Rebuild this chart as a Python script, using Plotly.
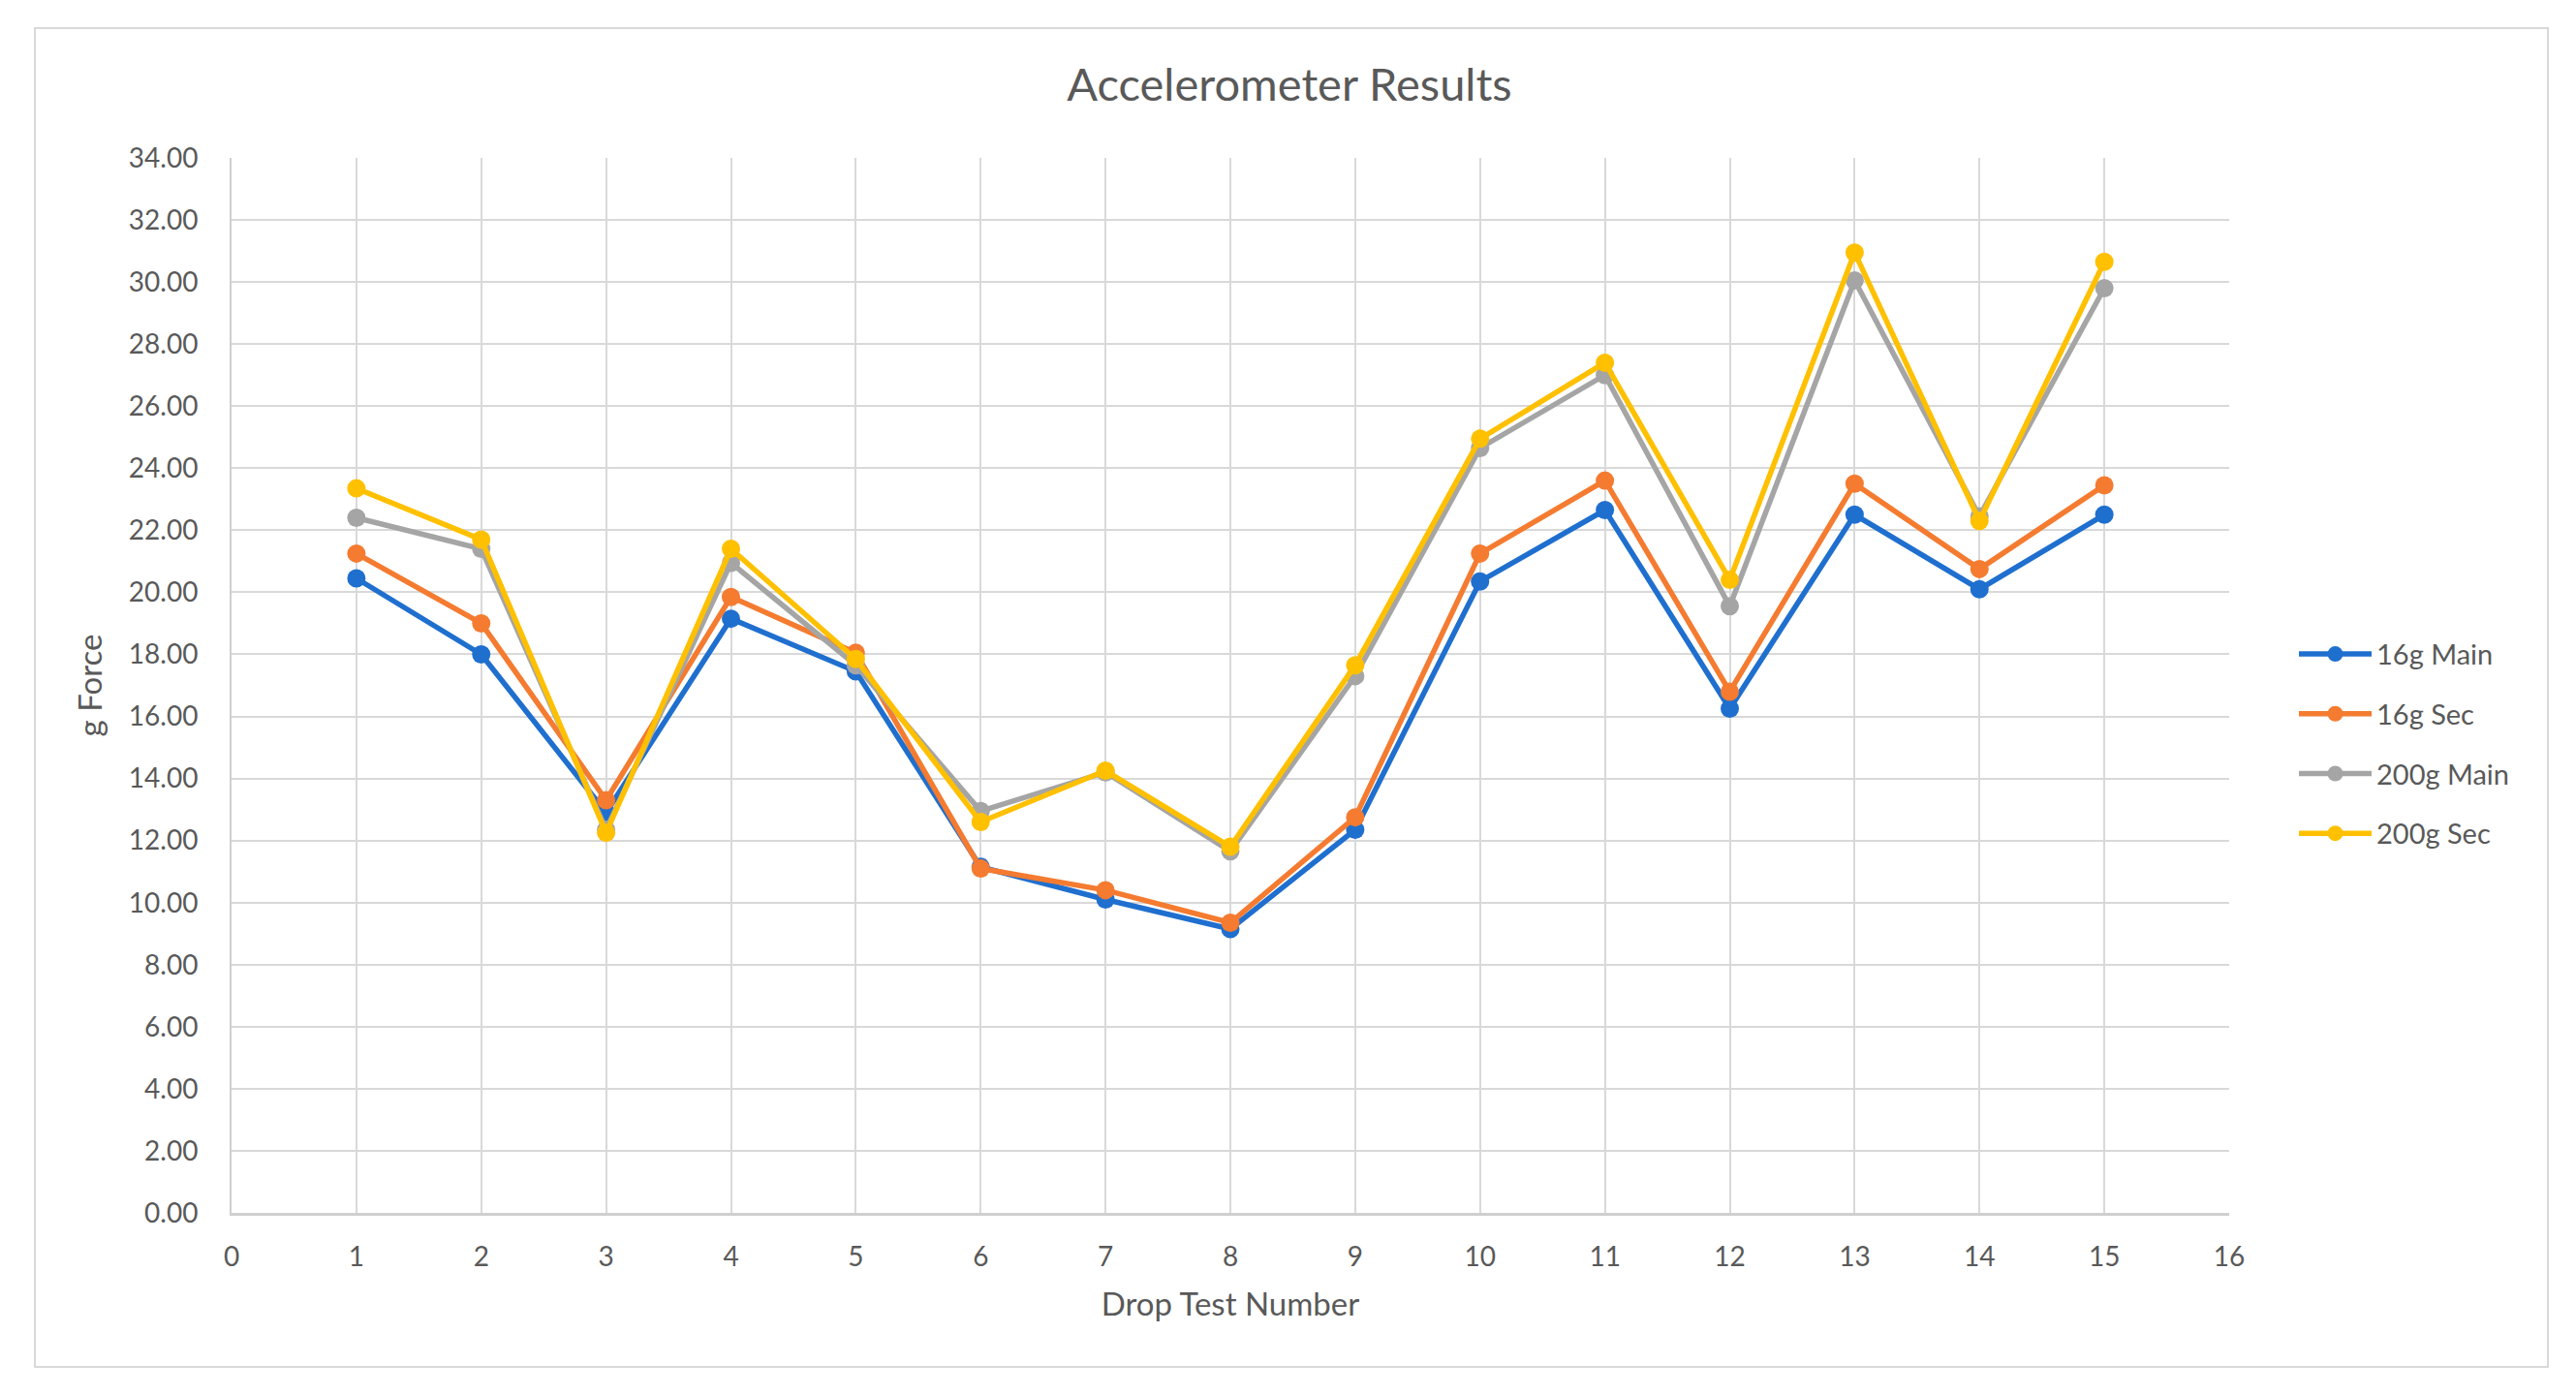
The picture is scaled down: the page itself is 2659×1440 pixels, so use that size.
import plotly.graph_objects as go

drop_tests = [1, 2, 3, 4, 5, 6, 7, 8, 9, 10, 11, 12, 13, 14, 15]
g16_main = [20.45, 18.00, 12.90, 19.15, 17.45, 11.15, 10.10, 9.15, 12.35, 20.35, 22.65, 16.25, 22.50, 20.10, 22.50]
g16_sec = [21.25, 19.00, 13.30, 19.85, 18.05, 11.10, 10.40, 9.35, 12.75, 21.25, 23.60, 16.80, 23.50, 20.75, 23.45]
g200_main = [22.40, 21.40, 12.35, 20.95, 17.65, 12.95, 14.20, 11.65, 17.30, 24.65, 27.00, 19.55, 30.05, 22.45, 29.80]
g200_sec = [23.35, 21.70, 12.25, 21.40, 17.85, 12.60, 14.25, 11.80, 17.65, 24.95, 27.40, 20.40, 30.95, 22.30, 30.65]

series_names = ["16g Main", "16g Sec", "200g Main", "200g Sec"]
series_values = [g16_main, g16_sec, g200_main, g200_sec]
series_colors = ["#1F6FCF", "#F47B30", "#A5A5A5", "#FFC000"]

x_ticks = list(range(0, 17))
y_ticks = list(range(0, 35, 2))

W, H = 2659, 1440
OFF = 8  # page body margin
L, R, T, B = 239 - OFF, 358 + OFF, 163 - OFF, 188 + OFF
pw, ph = W - L - R, H - T - B

FONT = "Lato, 'Open Sans', sans-serif"
TXT = "#595959"

fig = go.Figure()
for i, (name, vals, col) in enumerate(zip(series_names, series_values, series_colors)):
    fig.add_trace(go.Scatter(
        x=drop_tests, y=vals, name=name, mode="lines+markers",
        line=dict(color=col, width=5.5),
        marker=dict(color=col, size=19),
        legendgroup=f"g{i}",
    ))

fig.update_layout(
    width=W, height=H,
    margin=dict(l=L, r=R, t=T, b=B),
    paper_bgcolor="white", plot_bgcolor="white",
    font=dict(family=FONT, color=TXT, size=28),
    title=dict(text="Accelerometer Results", x=(1331 - OFF) / W, xref="container", xanchor="center",
               y=1 - (88 - OFF) / H, yref="container", yanchor="middle",
               font=dict(size=47, color=TXT, family=FONT)),
    legend=dict(x=(2374 + 2 - OFF - 239) / pw, xanchor="left",
                y=(H - B - (675 - OFF)) / ph + 0.02 + 3.5 / ph, yanchor="top",
                font=dict(size=29, color=TXT, family=FONT), tracegroupgap=21,
                itemwidth=75, bgcolor="rgba(0,0,0,0)"),
    showlegend=True,
)

fig.update_xaxes(
    range=[0, 16], tickvals=x_ticks, ticktext=[str(v) for v in x_ticks],
    showgrid=True, gridcolor="#D9D9D9", gridwidth=2,
    showline=True, linecolor="#CFCFCF", linewidth=3,
    zeroline=False, ticks="", ticklabelstandoff=18,
    tickfont=dict(size=28, color=TXT),
    title=dict(text="Drop Test Number", standoff=24, font=dict(size=33, color=TXT)),
)
fig.update_yaxes(
    range=[0, 34], tickvals=y_ticks, ticktext=[f"{v:.2f}" for v in y_ticks],
    showgrid=True, gridcolor="#D9D9D9", gridwidth=2,
    showline=True, linecolor="#CFCFCF", linewidth=2,
    zeroline=False, ticks="", ticklabelstandoff=27,
    tickfont=dict(size=28, color=TXT),
    title=dict(text="g Force", standoff=17, font=dict(size=33, color=TXT)),
)

# outer chart border
fig.add_shape(type="rect", xref="paper", yref="paper",
              x0=(36 - 239) / pw, x1=(2630 - 239) / pw,
              y0=(1252 - 1411) / ph, y1=(1252 - 29) / ph,
              line=dict(color="#D9D9D9", width=2), fillcolor="rgba(0,0,0,0)", layer="below")

fig.write_html("out.html")
